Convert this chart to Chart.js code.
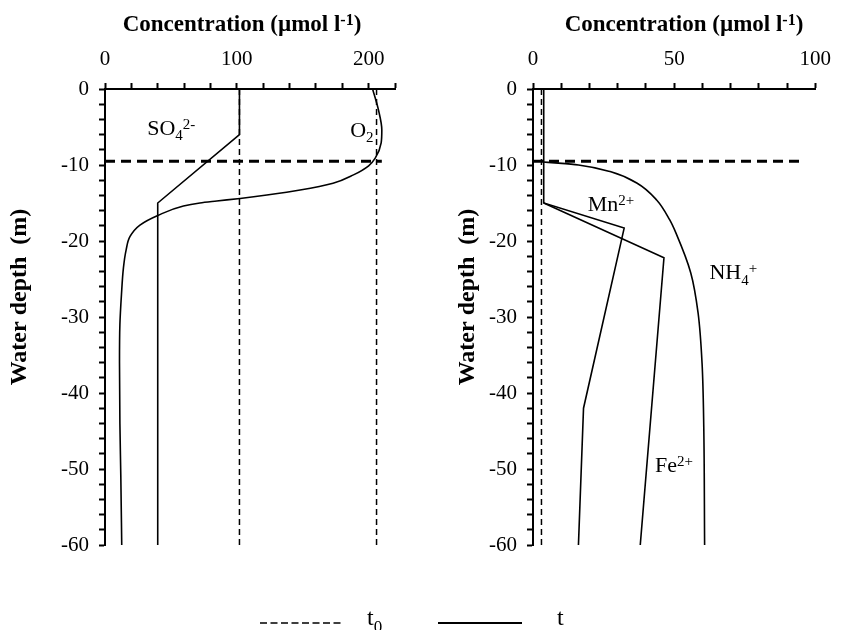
<!DOCTYPE html>
<html>
<head>
<meta charset="utf-8">
<script src="https://cdn.jsdelivr.net/npm/chart.js@4/dist/chart.umd.min.js"></script>
<style>
html,body{margin:0;padding:0;background:#fff;width:842px;height:630px;overflow:hidden;}
#wrap{position:relative;width:842px;height:630px;}
canvas{position:absolute;top:0;}
#c1{left:0;}
#c2{left:420px;}
.lg{position:absolute;font-family:"Liberation Serif",serif;font-size:24px;line-height:24px;color:#000;white-space:nowrap;}
.lg span{font-size:17px;position:relative;top:7px;}
</style>
</head>
<body>
<div id="wrap">
<canvas id="c1" width="420" height="630"></canvas>
<canvas id="c2" width="422" height="630"></canvas>
<svg style="position:absolute;left:0;top:600px" width="842" height="30">
  <line x1="260" y1="23" x2="343" y2="23" stroke="#000" stroke-width="1.5" stroke-dasharray="7,3.5"/>
  <line x1="438" y1="23" x2="522" y2="23" stroke="#000" stroke-width="2"/>
</svg>
<div class="lg" style="left:367px;top:605px">t<span>0</span></div>
<div class="lg" style="left:557px;top:605px">t</div>
</div>
<script>
// ---------------- data ----------------
const leftConcTicks = [0, 100, 200];
const rightConcTicks = [0, 50, 100];
const depthTicks = [0, -10, -20, -30, -40, -50, -60];

// left panel: O2 and SO4
const so4InitialConc = [102, 102];
const so4InitialDepth = [0, -60];
const o2InitialConc = [206, 206];
const o2InitialDepth = [0, -60];
const so4Conc = [102, 102, 40, 40];
const so4Depth = [0, -6, -15, -60];
const o2Conc = [203, 207.5, 210, 209.5, 205, 200, 188.5, 173, 148, 122.8, 102.5, 84.8, 72, 59.5, 40.5, 26.5, 19, 16, 14, 12.5, 11.3, 11, 11.3, 12, 12.7];
const o2Depth = [0, -2.8, -5.4, -7.1, -9.1, -10.1, -11.3, -12.4, -13.3, -13.95, -14.4, -14.74, -15.0, -15.4, -16.6, -17.9, -19.4, -21.2, -23.5, -27, -31, -36, -44, -51, -60];
const chemoclineDepth = [-9.5, -9.5];
const leftChemoclineConc = [0, 210];

// right panel: Mn2+, Fe2+, NH4+
const reducedInitialConc = [3, 3];
const reducedInitialDepth = [0, -60];
const mnConc = [3.8, 3.8, 32.3, 17.9, 16.1];
const mnDepth = [0, -15, -18.3, -42, -60];
const feConc = [3.8, 46.4, 38];
const feDepth = [-15, -22.2, -60];
const nh4Conc = [3.5, 9, 16.1, 27.6, 36.9, 43.8, 48.4, 50.7, 55.9, 58.5, 59.9, 60.5, 60.8];
const nh4Depth = [-9.6, -9.75, -10.0, -10.9, -12.4, -14.6, -17.2, -19, -24.2, -29.5, -36.1, -44.4, -60];
const rightChemoclineConc = [0, 95.5];

// ---------------- helpers ----------------
const FAMILY = '"Liberation Serif", "Times New Roman", serif';
const pts = (xs, ys) => xs.map((v, i) => ({x: v, y: ys[i]}));

function drawRich(ctx, parts, x, y, size, bold, align) {
  const small = Math.round(size * 0.68);
  const fontOf = k => (bold ? 'bold ' : '') + (k === 'n' ? size : small) + 'px ' + FAMILY;
  let total = 0;
  parts.forEach(p => { ctx.font = fontOf(p[1]); total += ctx.measureText(p[0]).width; });
  let cx = align === 'center' ? x - total / 2 : x;
  ctx.textAlign = 'left';
  ctx.textBaseline = 'alphabetic';
  ctx.fillStyle = '#000';
  parts.forEach(p => {
    ctx.font = fontOf(p[1]);
    const dy = p[1] === 'sup' ? -size * 0.27 : (p[1] === 'sub' ? size * 0.25 : 0);
    ctx.fillText(p[0], cx, y + dy);
    cx += ctx.measureText(p[0]).width;
  });
}

const annotate = {
  id: 'annotate',
  afterDatasetsDraw(chart, args, opts) {
    const ctx = chart.ctx;
    const xs = chart.scales.x, ys = chart.scales.y;
    ctx.save();
    (opts.labels || []).forEach(l => {
      drawRich(ctx, l.parts, xs.getPixelForValue(l.conc), ys.getPixelForValue(l.depth), 22, false, 'left');
    });
    // axis titles
    const t = opts.titles;
    drawRich(ctx, [['Concentration (µmol l', 'n'], ['-1', 'sup'], [')', 'n']], t.xTitleX, t.xTitleY, 23, true, 'center');
    ctx.translate(t.yTitleX, t.yTitleY);
    ctx.rotate(-Math.PI / 2);
    ctx.font = 'bold 24px ' + FAMILY;
    ctx.textAlign = 'center';
    ctx.textBaseline = 'middle';
    ctx.fillText('Water depth  (m)', 0, 0);
    ctx.restore();
  }
};

function lineDs(data, dashed, width, curve) {
  return {
    data, borderColor: '#000', borderWidth: width, borderDash: dashed || [],
    pointRadius: 0, fill: false,
    cubicInterpolationMode: curve ? 'monotone' : 'default', tension: 0
  };
}

function makeChart(id, datasets, xMax, xStep, xLabels, yAxisWidth, padRight, labels, titles) {
  return new Chart(document.getElementById(id), {
    type: 'line',
    data: {datasets},
    options: {
      indexAxis: 'y',
      responsive: false, animation: false, devicePixelRatio: 1,
      events: [],
      layout: {padding: {left: 0, top: 0, right: padRight, bottom: 85}},
      plugins: {legend: {display: false}, tooltip: {enabled: false}, annotate: {labels, titles}},
      scales: {
        x: {
          type: 'linear', position: 'top', min: 0, max: xMax,
          afterFit: s => { s.height = 89; },
          ticks: {
            stepSize: xStep, autoSkip: false, maxRotation: 0, padding: 11, color: '#000',
            font: {family: FAMILY, size: 21},
            callback: v => xLabels.includes(v) ? String(v) : ''
          },
          grid: {drawOnChartArea: false, drawTicks: true, tickLength: 6, tickWidth: 2, tickColor: '#000'},
          border: {display: true, color: '#000', width: 2}
        },
        y: {
          type: 'linear', position: 'left', min: -60, max: 0,
          afterFit: s => { s.width = yAxisWidth; },
          ticks: {
            stepSize: 2, autoSkip: false, padding: 10, color: '#000',
            font: {family: FAMILY, size: 21},
            callback: v => depthTicks.some(d => Math.abs(d - v) < 1e-6) ? String(Math.round(v)) : ''
          },
          grid: {drawOnChartArea: false, drawTicks: true, tickLength: 6, tickWidth: 2, tickColor: '#000'},
          border: {display: true, color: '#000', width: 2}
        }
      }
    },
    plugins: [annotate]
  });
}

const T0_DASH = [6, 4];
const CHEMO_DASH = [10, 6];

makeChart('c1', [
  lineDs(pts(so4InitialConc, so4InitialDepth), T0_DASH, 1.5),
  lineDs(pts(o2InitialConc, o2InitialDepth), T0_DASH, 1.5),
  lineDs(pts(leftChemoclineConc, chemoclineDepth), CHEMO_DASH, 3),
  lineDs(pts(so4Conc, so4Depth), null, 1.6),
  lineDs(pts(o2Conc, o2Depth), null, 1.6, true)
], 220, 20, leftConcTicks, 105, 25, [
  {parts: [['SO', 'n'], ['4', 'sub'], ['2-', 'sup']], conc: 32, depth: -6.05},
  {parts: [['O', 'n'], ['2', 'sub']], conc: 186, depth: -6.3}
], {xTitleX: 242, xTitleY: 31, yTitleX: 20, yTitleY: 297});

makeChart('c2', [
  lineDs(pts(reducedInitialConc, reducedInitialDepth), T0_DASH, 1.5),
  lineDs(pts(rightChemoclineConc, chemoclineDepth), CHEMO_DASH, 3),
  lineDs(pts(mnConc, mnDepth), null, 1.6),
  lineDs(pts(feConc, feDepth), null, 1.6),
  lineDs(pts(nh4Conc, nh4Depth), null, 1.6, true)
], 100, 10, rightConcTicks, 113, 19, [
  {parts: [['Mn', 'n'], ['2+', 'sup']], conc: 19.4, depth: -16.1},
  {parts: [['NH', 'n'], ['4', 'sub'], ['+', 'sup']], conc: 62.5, depth: -25.0},
  {parts: [['Fe', 'n'], ['2+', 'sup']], conc: 43.2, depth: -50.4}
], {xTitleX: 264, xTitleY: 31, yTitleX: 48, yTitleY: 297});
</script>
</body>
</html>
